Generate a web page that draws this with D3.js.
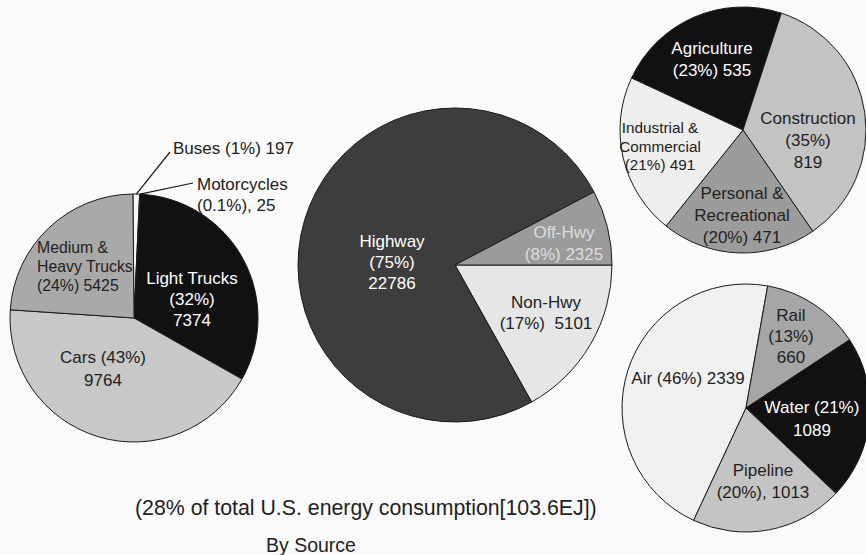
<!DOCTYPE html>
<html>
<head>
<meta charset="utf-8">
<script src="https://cdn.jsdelivr.net/npm/d3@7"></script>
<style>
  html, body { margin: 0; padding: 0; background: #fafafa; }
  svg { display: block; }
  text { font-family: "Liberation Sans", Arial, Helvetica, sans-serif; white-space: pre; }
</style>
</head>
<body>
<svg id="chart" width="866" height="555"></svg>
<script>
// ---- Data ----
const modeCats   = ["Buses", "Motorcycles", "Light Trucks", "Cars", "Medium & Heavy Trucks"];
const modeValues = [197, 25, 7374, 9764, 5425];
const modePct    = ["1", "0.1", "32", "43", "24"];

const typeCats   = ["Non-Hwy", "Highway", "Off-Hwy"];
const typeValues = [5101, 22786, 2325];
const typePct    = ["17", "75", "8"];

const offCats    = ["Agriculture", "Construction", "Personal & Recreational", "Industrial & Commercial"];
const offValues  = [535, 819, 471, 491];
const offPct     = ["23", "35", "20", "21"];

const nonCats    = ["Air", "Rail", "Water", "Pipeline"];
const nonValues  = [2339, 660, 1089, 1013];
const nonPct     = ["46", "13", "21", "20"];

const footLines  = ["(28% of total U.S. energy consumption[103.6EJ])", "By Source"];

// ---- Layout / style ----
const deg = Math.PI / 180;
const svg = d3.select("#chart");
svg.append("rect").attr("width", 866).attr("height", 555).attr("fill", "#fafafa");

const pies = [
  { cats: modeCats, vals: modeValues, pct: modePct, cx: 134, cy: 318, r: 124, start: -0.5 * deg,
    colors: ["#f6f6f6", "#f6f6f6", "#111111", "#c8c8c8", "#a9a9a9"],
    labels: [
      { lines: ["{n} ({p}%) {v}"], x: 173, y: 148, anchor: "start", abs: true, leader: [170, 152], size: 17, fill: "#222" },
      { lines: ["{n}", "({p}%), {v}"], x: 197, y: 184, anchor: "start", abs: true, leader: [193, 183], size: 17, fill: "#222", gap: 21 },
      { lines: ["{n}", "({p}%)", "{v}"], dx: 58, dy: -40, size: 17, fill: "#ffffff", gap: 21 },
      { lines: ["{n} ({p}%)", "{v}"], dx: -31, dy: 39, size: 17, fill: "#222", gap: 23 },
      { lines: ["Medium &", "Heavy Trucks", "({p}%) {v}"], dx: -97, dy: -71, anchor: "start", size: 15.8, fill: "#222", gap: 19 }
    ] },
  { cats: typeCats, vals: typeValues, pct: typePct, cx: 455, cy: 265, r: 157, start: 90 * deg,
    colors: ["#e6e6e6", "#3d3d3d", "#9b9b9b"],
    labels: [
      { lines: ["{n}", "({p}%)  {v}"], dx: 91, dy: 37, size: 17, fill: "#222", gap: 21 },
      { lines: ["{n}", "({p}%)", "{v}"], dx: -63, dy: -24, size: 17, fill: "#ffffff", gap: 21 },
      { lines: ["{n}", "({p}%) {v}"], dx: 109, dy: -33, size: 17, fill: "#dddddd", gap: 22 }
    ] },
  { cats: offCats, vals: offValues, pct: offPct, cx: 743, cy: 130, r: 123, start: -65 * deg,
    colors: ["#111111", "#c3c3c3", "#9c9c9c", "#eeeeee"],
    labels: [
      { lines: ["{n}", "({p}%) {v}"], dx: -31, dy: -82, size: 17, fill: "#ffffff", gap: 22 },
      { lines: ["{n}", "({p}%)", "{v}"], dx: 65, dy: -12, size: 17, fill: "#222", gap: 22 },
      { lines: ["Personal &", "Recreational", "({p}%) {v}"], dx: -1, dy: 63, size: 17, fill: "#222", gap: 22 },
      { lines: ["Industrial &", "Commercial", "({p}%) {v}"], dx: -83, dy: -2, size: 15.3, fill: "#222", gap: 18.5 }
    ] },
  { cats: nonCats, vals: nonValues, pct: nonPct, cx: 746, cy: 408, r: 124, start: -155 * deg,
    colors: ["#f0f0f0", "#a6a6a6", "#111111", "#c4c4c4"],
    labels: [
      { lines: ["{n} ({p}%) {v}"], dx: -58, dy: -30, size: 17, fill: "#222", gap: 21 },
      { lines: ["{n}", "({p}%)", "{v}"], dx: 45, dy: -93, size: 17, fill: "#222", gap: 21 },
      { lines: ["{n} ({p}%)", "{v}"], dx: 66, dy: -1, size: 17, fill: "#ffffff", gap: 23 },
      { lines: ["{n}", "({p}%), {v}"], dx: 17, dy: 62, size: 17, fill: "#222", gap: 22 }
    ] }
];

pies.forEach(P => {
  const data = P.cats.map((c, i) => ({ cat: c, val: P.vals[i], pct: P.pct[i], i }));
  const pie = d3.pie().sort(null).value(d => d.val).startAngle(P.start).endAngle(P.start + 2 * Math.PI);
  const arcs = pie(data);
  const arc = d3.arc().innerRadius(0).outerRadius(P.r);
  const g = svg.append("g").attr("transform", `translate(${P.cx},${P.cy})`);
  g.selectAll("path").data(arcs).join("path")
    .attr("d", arc)
    .attr("fill", d => P.colors[d.data.i])
    .attr("stroke", "#1a1a1a")
    .attr("stroke-width", 1);

  arcs.forEach(a => {
    const L = P.labels[a.data.i];
    const fmt = s => s.replace("{n}", a.data.cat).replace("{p}", a.data.pct).replace("{v}", a.data.val);
    const x = L.abs ? L.x : P.cx + L.dx;
    const y = L.abs ? L.y : P.cy + L.dy;
    if (L.leader) {
      const mid = (a.startAngle + a.endAngle) / 2;
      const sx = P.cx + Math.sin(mid) * P.r, sy = P.cy - Math.cos(mid) * P.r;
      svg.append("line").attr("x1", sx).attr("y1", sy).attr("x2", L.leader[0]).attr("y2", L.leader[1])
        .attr("stroke", "#1a1a1a").attr("stroke-width", 1.2);
    }
    const t = svg.append("text")
      .attr("text-anchor", L.anchor || "middle")
      .attr("font-size", L.size)
      .attr("fill", L.fill);
    L.lines.forEach((ln, k) => {
      t.append("tspan").attr("x", x).attr("y", y + k * (L.gap || 21)).attr("dy", "0.35em").text(fmt(ln));
    });
  });
});

svg.append("text").attr("x", 135).attr("y", 508).attr("dy", "0.35em")
  .attr("font-size", 21.3).attr("fill", "#222").text(footLines[0]);
svg.append("text").attr("x", 266).attr("y", 545).attr("dy", "0.35em")
  .attr("font-size", 19.5).attr("fill", "#222").text(footLines[1]);
</script>
</body>
</html>
